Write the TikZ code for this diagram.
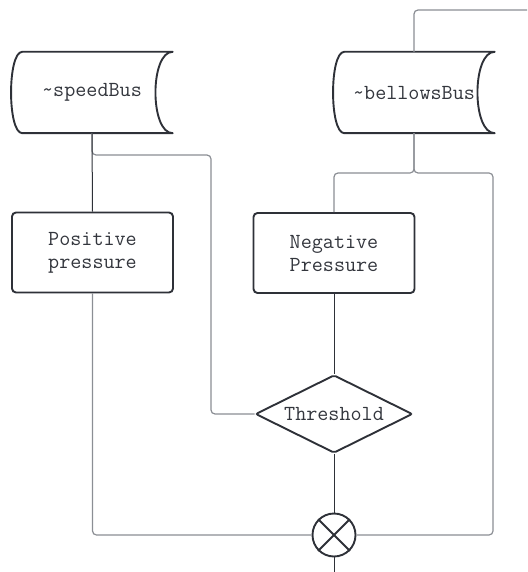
\documentclass[tikz,border=0pt]{standalone}
\usepackage{fontspec}
\usetikzlibrary{shapes.geometric,calc}
\definecolor{inkdark}{HTML}{2E3138}
\definecolor{inkgray}{HTML}{8B8E94}
\definecolor{inktext}{HTML}{33363D}
\begin{document}
\begin{tikzpicture}[x=1pt,y=-1pt,
    every node/.style={font=\fontsize{21.5}{23}\selectfont\ttfamily, text=inktext},
    bus/.style={minimum width=161pt, minimum height=81pt, inner sep=0pt},
    process/.style={draw=inkdark, line width=1.9pt, rounded corners=4pt, minimum width=161pt, minimum height=80pt, align=center, inner sep=2pt},
    decision/.style={draw=inkdark, line width=1.9pt, diamond, aspect=2, minimum width=157pt, minimum height=78pt, inner sep=1pt, rounded corners=2pt},
    junction/.style={draw=inkdark, line width=1.9pt, circle, minimum size=43pt, inner sep=0pt},
    shapeline/.style={draw=inkdark, line width=1.9pt, line join=round},
    mainline/.style={draw=inkdark, line width=1pt},
    busline/.style={draw=inkgray, line width=1.2pt, rounded corners=4pt}]
    \useasboundingbox (0,0) rectangle (527,572);

    \node[bus] (speedBus) at (92,92.5) {\textasciitilde speedBus\hspace{12pt}};
    \node[bus] (bellowsBus) at (414,92.5) {\textasciitilde bellowsBus\hspace{10pt}};
    \draw[shapeline] ([xshift=11]speedBus.north west) -- (speedBus.north east)
        .. controls ([xshift=-23]speedBus.north east) and ([xshift=-23]speedBus.south east) .. (speedBus.south east)
        -- ([xshift=11]speedBus.south west)
        .. controls ([xshift=-4]speedBus.south west) and ([xshift=-4]speedBus.north west) .. cycle;
    \draw[shapeline] ([xshift=11]bellowsBus.north west) -- (bellowsBus.north east)
        .. controls ([xshift=-23]bellowsBus.north east) and ([xshift=-23]bellowsBus.south east) .. (bellowsBus.south east)
        -- ([xshift=11]bellowsBus.south west)
        .. controls ([xshift=-4]bellowsBus.south west) and ([xshift=-4]bellowsBus.north west) .. cycle;

    \node[process] (positive) at (92.5,252.5) {Positive\\pressure};
    \node[process] (negative) at (334,253) {Negative\\Pressure};
    \node[decision] (threshold) at (334,414) {Threshold};
    \node[junction] (sum) at (334,535) {};
    \draw[shapeline] (sum.north west) -- (sum.south east);
    \draw[shapeline] (sum.north east) -- (sum.south west);

    \coordinate (sbTurn) at (211,155);
    \coordinate (bbTop) at (527,10);
    \coordinate (bbSplit) at (414,173);
    \coordinate (bbRight) at (493,173);
    \coordinate (out) at (334,572);

    \draw[busline] (bellowsBus.north) |- (bbTop);
    \draw[busline] (speedBus.south) |- (sbTurn) |- (threshold.west);
    \draw[busline] (bellowsBus.south) -- (bbSplit) -| (negative.north);
    \draw[busline] (bellowsBus.south) |- (bbRight) |- (sum.east);
    \draw[busline] (positive.south) |- (sum.west);
    \draw[mainline] (speedBus.south) -- (positive.north);
    \draw[mainline] (negative.south) -- (threshold.north);
    \draw[mainline] (threshold.south) -- (sum.north);
    \draw[mainline] (sum.south) -- (out);
\end{tikzpicture}
\end{document}
